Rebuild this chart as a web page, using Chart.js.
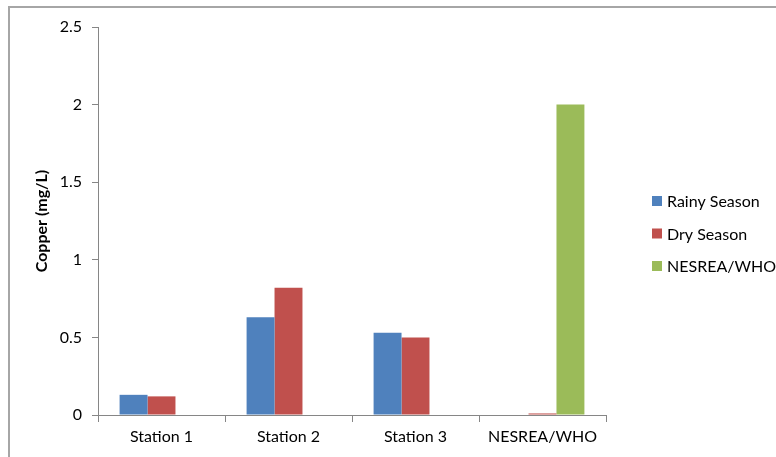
<!DOCTYPE html>
<html>
<head>
<meta charset="utf-8">
<script src="https://cdn.jsdelivr.net/npm/chart.js@4"></script>
<style>
  html, body { margin: 0; padding: 0; background: #fff; }
  #wrap { position: relative; width: 776px; height: 457px; }
  #frame { position: absolute; left: 8px; top: 6px; right: -4px; bottom: -4px;
           border-left: 2px solid #a6a6a6; border-top: 2px solid #a6a6a6; pointer-events: none; }
  canvas { position: absolute; left: 0; top: 0; }
</style>
</head>
<body>
<div id="wrap">
  <canvas id="chart" width="776" height="457"></canvas>
  <div id="frame"></div>
</div>
<script>
// Copper concentration by sampling station and season
const categories = ['Station 1', 'Station 2', 'Station 3', 'NESREA/WHO'];
const rainySeason = [0.13, 0.63, 0.53, 0];
const drySeason = [0.12, 0.82, 0.50, 0.01];
const nesreaWho = [null, null, null, 2.0];
const yTicks = [0, 0.5, 1, 1.5, 2, 2.5];

const FONT = 'Lato, "Liberation Sans", sans-serif';
const AXIS_GREY = '#868686';

// Legend drawn to the right of the plot: small square + label
const sideLegend = {
  id: 'sideLegend',
  afterDraw(chart) {
    const { ctx, chartArea } = chart;
    const items = chart.data.datasets;
    const step = 32.5;
    const midY = (chartArea.top + chartArea.bottom) / 2 + 12.5;
    const x0 = chartArea.right + 46;
    ctx.save();
    ctx.font = '16px ' + FONT;
    ctx.textBaseline = 'middle';
    ctx.textAlign = 'left';
    items.forEach((ds, i) => {
      const y = midY + (i - (items.length - 1) / 2) * step;
      ctx.fillStyle = ds.backgroundColor;
      ctx.fillRect(x0, y - 5, 10, 10);
      ctx.fillStyle = '#000';
      ctx.fillText(ds.label, x0 + 15, y + 1);
    });
    ctx.restore();
  }
};

new Chart(document.getElementById('chart'), {
  type: 'bar',
  data: {
    labels: categories,
    datasets: [
      { label: 'Rainy Season', data: rainySeason, backgroundColor: '#4F81BD' },
      { label: 'Dry Season', data: drySeason, backgroundColor: '#C0504D' },
      { label: 'NESREA/WHO', data: nesreaWho, backgroundColor: '#9BBB59' }
    ]
  },
  options: {
    responsive: false,
    animation: false,
    devicePixelRatio: 1,
    layout: { padding: { top: 27, right: 170, left: 0, bottom: 0 } },
    datasets: { bar: { categoryPercentage: 0.66, barPercentage: 1.0, skipNull: false } },
    plugins: {
      legend: { display: false },
      tooltip: { enabled: false }
    },
    scales: {
      x: {
        grid: { display: true, drawOnChartArea: false, offset: true, color: AXIS_GREY, tickLength: 7 },
        border: { color: AXIS_GREY, width: 1 },
        ticks: { color: '#000', font: { family: FONT, size: 16 }, padding: 5 },
        afterFit(scale) { scale.height = 42; }
      },
      y: {
        min: 0,
        max: 2.5,
        afterBuildTicks(scale) { scale.ticks = yTicks.map(v => ({ value: v })); },
        grid: { display: true, drawOnChartArea: false, color: AXIS_GREY, tickLength: 6 },
        border: { color: AXIS_GREY, width: 1 },
        ticks: { color: '#000', font: { family: FONT, size: 16 }, padding: 10,
                 callback: v => String(v) },
        title: {
          display: true,
          text: 'Copper (mg/L)',
          color: '#000',
          font: { family: FONT, size: 16, weight: 'bold' },
          padding: { top: 32, bottom: 0 }
        },
        afterFit(scale) { scale.width = 98; }
      }
    }
  },
  plugins: [sideLegend]
});
</script>
</body>
</html>
